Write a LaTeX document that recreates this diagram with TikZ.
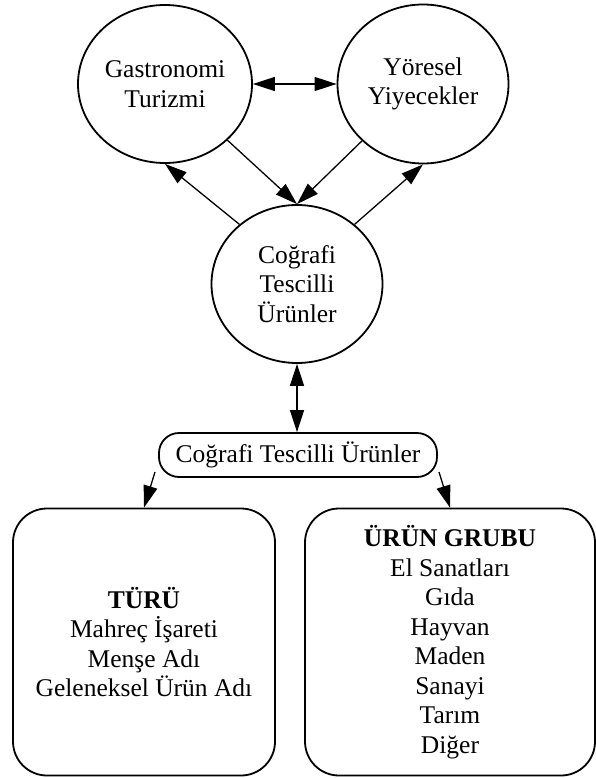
\documentclass[tikz,border=0pt]{standalone}
\usepackage{fontspec}
\setmainfont{Liberation Serif}
\usetikzlibrary{arrows.meta,shapes.geometric}
\tikzset{
  circ/.style={draw, line width=1.8pt, ellipse, inner sep=0pt, align=center, font=\fontsize{25.5}{29.5}\selectfont},
  rbox/.style={draw, line width=1.8pt, rounded corners=#1, inner sep=0pt, align=center, font=\fontsize{25.5}{29.5}\selectfont},
  tip/.tip={Triangle[length=22pt,width=14pt]},
  arr/.style={line width=1.3pt, -tip},
  darr/.style={line width=1.3pt, tip-tip}
}
\begin{document}
\begin{tikzpicture}[x=1pt,y=-1pt]
\useasboundingbox (0,0) rectangle (595,778);
\node[circ, minimum width=174pt, minimum height=158pt] (g) at (165,84) {Gastronomi\\Turizmi};
\node[circ, minimum width=171pt, minimum height=159pt] (y) at (423,84) {Yöresel\\Yiyecekler};
\node[circ, minimum width=171pt, minimum height=158pt] (c) at (297,284) {Coğrafi\\Tescilli\\Ürünler};
\node[rbox=20pt, minimum width=278pt, minimum height=44pt] (b) at (298,455) {Coğrafi Tescilli Ürünler};
\node[rbox=34pt, minimum width=262pt, minimum height=267pt] (l) at (144,642) {\textbf{TÜRÜ}\\Mahreç İşareti\\Menşe Adı\\Geleneksel Ürün Adı};
\node[rbox=34pt, minimum width=290pt, minimum height=267pt] (r) at (450,642) {\textbf{ÜRÜN GRUBU}\\El Sanatları\\Gıda\\Hayvan\\Maden\\Sanayi\\Tarım\\Diğer};
\draw[darr] (g.east) -- (y.west);
\draw[arr] (g.-42) -- (c.north);
\draw[arr] (y.223) -- (c.north);
\draw[arr] (c.134) -- (g.south);
\draw[arr] (c.46) -- (y.south);
\draw[darr] (c.south) -- (b.north -| c.south);
\coordinate (bl) at (155,472);
\coordinate (br) at (439,472);
\draw[arr] (bl) -- (l.north);
\draw[arr] (br) -- (r.north);
\end{tikzpicture}
\end{document}
